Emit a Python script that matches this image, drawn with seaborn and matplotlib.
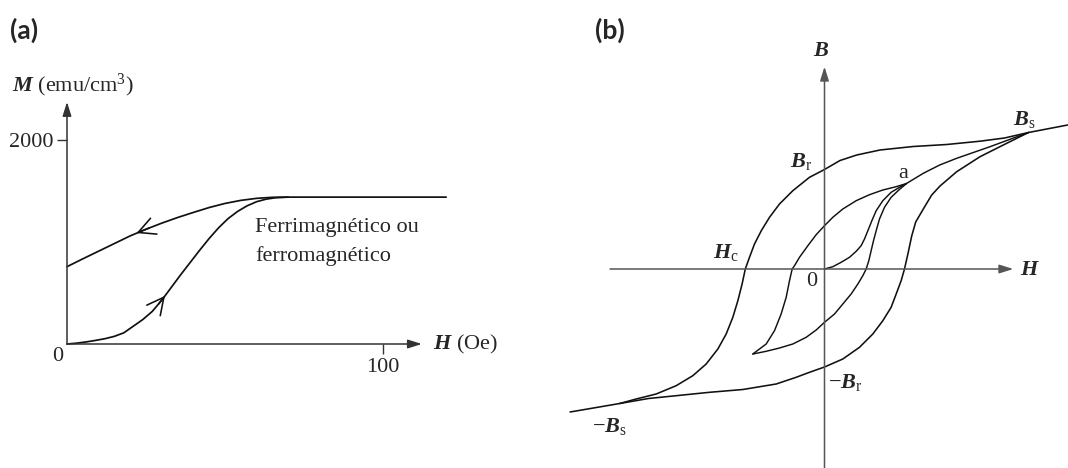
import matplotlib
matplotlib.use("Agg")
import matplotlib.pyplot as plt
import seaborn as sns

# ---------------- (a) magnetization curve ----------------
# H in Oe, M in emu/cm^3
init_a_H = [0, 3, 6, 9, 12, 15, 18, 21, 24, 27, 30, 33, 36, 39, 42, 45, 48, 51, 54, 57, 60, 63, 66,
            70, 120]
init_a_M = [0, 8, 20, 35, 52, 75, 110, 175, 240, 320, 430, 555, 680, 800, 920, 1035, 1140, 1230,
            1300, 1355, 1395, 1420, 1434, 1440, 1440]
back_a_H = [70, 65, 60, 55, 50, 45, 40, 35, 30, 25, 20, 15, 10, 5, 0]
back_a_M = [1440, 1438, 1428, 1408, 1378, 1338, 1290, 1240, 1185, 1125, 1060, 985, 910, 835, 758]
ticks_a_H = [100]
ticks_a_M = [2000]

# ---------------- (b) hysteresis loop (arbitrary units) ----------------
outer_down_H = [3.04, 2.55, 2.25, 1.944, 1.528, 1.11, 0.694, 0.403, 0.194, 0.0, -0.1875, -0.396,
                -0.5625, -0.6875, -0.79, -0.875, -0.9375, -0.99, -1.03, -1.083, -1.146, -1.229,
                -1.333, -1.479, -1.646, -1.854, -2.104, -2.354, -2.56, -3.18]
outer_down_B = [1.44, 1.365, 1.31, 1.278, 1.245, 1.225, 1.19, 1.14, 1.085, 0.995, 0.917, 0.783,
                0.65, 0.517, 0.383, 0.25, 0.117, 0.0, -0.15, -0.317, -0.483, -0.65,
                -0.8, -0.95, -1.067, -1.167, -1.25, -1.3, -1.345, -1.43]
outer_up_H = [-2.56, -2.2, -1.854, -1.4375, -1.02, -0.604, -0.354, -0.1875, 0.0, 0.229, 0.4375,
              0.604, 0.729, 0.833, 0.896, 0.958, 1.0, 1.045, 1.09, 1.14, 1.235, 1.34, 1.444,
              1.6525, 1.944, 2.235, 2.55]
outer_up_B = [-1.345, -1.295, -1.267, -1.233, -1.205, -1.15, -1.083, -1.033, -0.98, -0.9, -0.783,
              -0.65, -0.517, -0.383, -0.25, -0.117, 0.0, 0.16, 0.33, 0.47, 0.60, 0.74, 0.83,
              0.973, 1.123, 1.24, 1.365]
minor_down_H = [1.025, 0.896, 0.729, 0.5625, 0.396, 0.229, 0.104, 0.0, -0.104, -0.208, -0.3125,
                -0.375, -0.404, -0.4375, -0.479, -0.542, -0.625, -0.729, -0.896]
minor_down_B = [0.855, 0.823, 0.79, 0.743, 0.683, 0.6, 0.517, 0.433, 0.343, 0.233, 0.117,
                0.033, 0.0, -0.117, -0.283, -0.45, -0.617, -0.75, -0.85]
minor_up_H = [-0.896, -0.729, -0.5625, -0.396, -0.229, -0.104, 0.0, 0.125, 0.229, 0.333, 0.417,
              0.479, 0.521, 0.554, 0.583, 0.6125, 0.646, 0.6875, 0.75, 0.833, 0.929, 1.025]
minor_up_B = [-0.85, -0.823, -0.79, -0.75, -0.683, -0.61, -0.533, -0.45, -0.35, -0.25, -0.15,
              -0.067, 0.0, 0.083, 0.183, 0.283, 0.383, 0.5, 0.617, 0.717, 0.79, 0.855]
virgin_H = [0.0, 0.104, 0.208, 0.3125, 0.396, 0.458, 0.5, 0.542, 0.592, 0.646, 0.729, 0.833,
            0.9375, 1.025, 1.235, 1.44, 1.6525, 2.069, 2.55]
virgin_B = [0.0, 0.023, 0.067, 0.117, 0.177, 0.233, 0.3, 0.383, 0.483, 0.583, 0.683, 0.767,
            0.817, 0.855, 0.957, 1.04, 1.107, 1.223, 1.365]

INK = "#111111"
AXIS_A = "#333333"
AXIS_B = "#555555"

sns.set_style("white")
plt.rcParams["font.family"] = ["Liberation Serif", "DejaVu Serif"]
plt.rcParams["mathtext.fontset"] = "custom"
plt.rcParams["mathtext.rm"] = "Liberation Serif"
plt.rcParams["mathtext.it"] = "Liberation Serif:italic"
plt.rcParams["mathtext.bf"] = "Liberation Serif:bold:italic"

W, H = 1068, 468
fig = plt.figure(figsize=(W / 100, H / 100), dpi=100)
FS = 16


def curve(ax, x, y, lw=1.15):
    sns.lineplot(x=x, y=y, sort=False, estimator=None, color=INK, lw=lw, ax=ax)
    ln = ax.lines[-1]
    ln.set_clip_on(False)
    ln.set_solid_joinstyle("round")


def axis_arrow(ax, start, end, color):
    ax.annotate("", xy=end, xytext=start, annotation_clip=False,
                arrowprops=dict(arrowstyle="-|>,head_length=0.7,head_width=0.22",
                                mutation_scale=12, lw=1.1, color=color,
                                shrinkA=0, shrinkB=0))


def flow_arrow(ax, tip, tail):
    ax.annotate("", xy=tip, xytext=tail, annotation_clip=False,
                arrowprops=dict(arrowstyle="->,head_length=0.55,head_width=0.28",
                                mutation_scale=22, lw=1.15, color=INK,
                                shrinkA=0, shrinkB=0))


# ---- panel (a) ----
ox, oy = 67, 344            # pixel position of the origin
px_H, px_M = 3.16, 0.102    # pixels per unit
aw, ah = 393, 249
ax1 = fig.add_axes([ox / W, (H - oy) / H, aw / W, ah / H])
ax1.set_xlim(0, aw / px_H)
ax1.set_ylim(0, ah / px_M)
for s in ax1.spines.values():
    s.set_visible(False)
ax1.set_facecolor("none")

curve(ax1, init_a_H, init_a_M, lw=1.25)
curve(ax1, back_a_H, back_a_M, lw=1.25)
flow_arrow(ax1, (31.0, 472), (29.0, 393))
flow_arrow(ax1, (22.0, 1087), (26.0, 1137))

axis_arrow(ax1, (0, 0), (112.3, 0), AXIS_A)
axis_arrow(ax1, (0, 0), (0, 2373), AXIS_A)

ax1.set_xticks(ticks_a_H)
ax1.set_xticklabels([str(v) for v in ticks_a_H])
ax1.set_yticks(ticks_a_M)
ax1.set_yticklabels([str(v) for v in ticks_a_M])
ax1.tick_params(axis="both", which="both", direction="out", length=7, width=1.0,
                color=AXIS_A, labelsize=FS, pad=3, bottom=True, left=True)
ax1.text(-2.85, -127, "0", fontsize=FS, ha="center", va="center")
ax1.text(-17.4, 2474, r"$\mathbf{M}$ (emu/cm$^3$)", fontsize=FS, ha="left", va="baseline")
ax1.text(115.8, -52, r"$\mathbf{H}$ (Oe)", fontsize=FS, ha="left", va="baseline")
ax1.text(59.5, 1095, "Ferrimagnético ou", fontsize=FS, ha="left", va="baseline")
ax1.text(59.5, 817, "ferromagnético", fontsize=FS, ha="left", va="baseline")

# ---- panel (b) ----
bx0 = 560
cx, cy = 824.5, 269         # pixel position of the origin
sH, sB = 80.0, 100.0        # pixels per unit
ax2 = fig.add_axes([bx0 / W, 0, (W - bx0) / W, 1])
ax2.set_xlim((bx0 - cx) / sH, (W - cx) / sH)
ax2.set_ylim((cy - H) / sB, cy / sB)
ax2.axis("off")
ax2.set_facecolor("none")

axis_arrow(ax2, (-2.68, 0), (2.36, 0), AXIS_B)
axis_arrow(ax2, (0, -1.99), (0, 2.023), AXIS_B)

curve(ax2, outer_down_H, outer_down_B)
curve(ax2, outer_up_H, outer_up_B)
curve(ax2, minor_down_H, minor_down_B, lw=1.05)
curve(ax2, minor_up_H, minor_up_B, lw=1.05)
curve(ax2, virgin_H, virgin_B, lw=1.05)

ax2.text(-0.0475, 2.173, r"$\mathbf{B}$", fontsize=FS, ha="center", va="center")
ax2.text(2.44, -0.06, r"$\mathbf{H}$", fontsize=FS, ha="left", va="baseline")
ax2.text(2.356, 1.44, r"$\mathbf{B}_{\mathrm{s}}$", fontsize=FS, ha="left", va="baseline")
ax2.text(-0.431, 1.023, r"$\mathbf{B}_{\mathrm{r}}$", fontsize=FS, ha="left", va="baseline")
ax2.text(0.985, 0.907, "a", fontsize=FS, ha="center", va="baseline")
ax2.text(-1.394, 0.107, r"$\mathbf{H}_{\mathrm{c}}$", fontsize=FS, ha="left", va="baseline")
ax2.text(-0.165, -0.13, "0", fontsize=FS, ha="center", va="center")
ax2.text(0.0475, -1.193, r"$-\mathbf{B}_{\mathrm{r}}$", fontsize=FS, ha="left", va="baseline")
ax2.text(-2.91, -1.627, r"$-\mathbf{B}_{\mathrm{s}}$", fontsize=FS, ha="left", va="baseline")

# ---- panel tags ----
fig.text(10 / W, (H - 30) / H, "(a)", fontsize=19, fontweight="bold",
         family=["Lato", "DejaVu Sans"], ha="left", va="center")
fig.text(595 / W, (H - 30) / H, "(b)", fontsize=19, fontweight="bold",
         family=["Lato", "DejaVu Sans"], ha="left", va="center")

fig.savefig("out.png", dpi=100, facecolor="white")
